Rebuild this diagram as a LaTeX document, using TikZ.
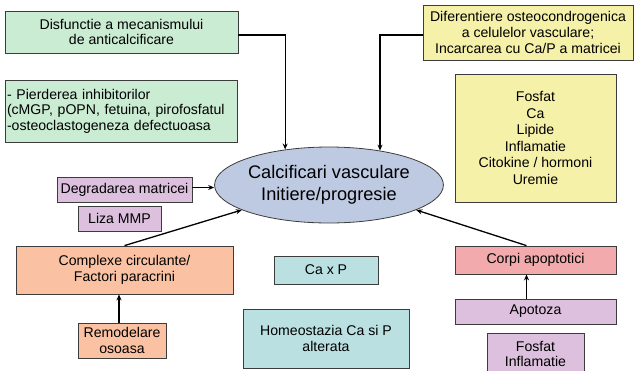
\documentclass[tikz,border=0pt]{standalone}
\usepackage{fontspec}
\setmainfont{Liberation Sans}
\usetikzlibrary{arrows.meta,shapes.geometric}
\definecolor{cgreen}{RGB}{202,236,210}
\definecolor{cyellow}{RGB}{246,241,168}
\definecolor{clav}{RGB}{220,192,222}
\definecolor{corange}{RGB}{250,194,162}
\definecolor{cteal}{RGB}{186,224,226}
\definecolor{cpink}{RGB}{242,170,172}
\definecolor{cell}{RGB}{190,201,226}
\definecolor{cborder}{RGB}{60,60,60}
\begin{document}
\begin{tikzpicture}[x=1pt,y=-1pt,
  box/.style={draw=cborder,line width=0.8pt,rectangle,inner sep=0pt,align=center,
    font=\fontsize{14.1}{15.6}\selectfont},
  arr/.style={-{Stealth[length=6pt,width=5pt]},line width=1.3pt,black}]
\useasboundingbox (0,0) rectangle (635,370);
\node[box,fill=cgreen,minimum width=233,minimum height=42] (dis) at (121.5,32)
  {Disfunctie a mecanismului\\de anticalcificare};
\node[box,fill=cgreen,minimum width=232,minimum height=62,align=left,text width=228] (pier) at (121,111)
  {- Pierderea inhibitorilor\\(cMGP, pOPN, fetuina, pirofosfatul\\-osteoclastogeneza defectuoasa};
\node[box,fill=cyellow,minimum width=210,minimum height=55] (dif) at (528,32.5)
  {Diferentiere osteocondrogenica\\a celulelor vasculare;\\Incarcarea cu Ca/P a matricei};
\node[box,fill=cyellow,minimum width=161,minimum height=128,font=\fontsize{14.1}{16.6}\selectfont] (fos) at (535.5,138)
  {Fosfat\\Ca\\Lipide\\Inflamatie\\Citokine / hormoni\\Uremie};
\node[draw=cborder,line width=0.8pt,ellipse,fill=cell,minimum width=224,minimum height=76,inner sep=0pt,
  align=center,font=\fontsize{18.2}{21.5}\selectfont] (ell) at (329,185)
  {Calcificari vasculare\\Initiere/progresie};
\node[box,fill=clav,minimum width=135,minimum height=25] (deg) at (124.5,189.5) {Degradarea matricei};
\node[box,fill=clav,minimum width=83,minimum height=25] (liza) at (119.5,218.5) {Liza MMP};
\node[box,fill=corange,minimum width=217,minimum height=48] (comp) at (124.5,270)
  {Complexe circulante/\\Factori paracrini};
\node[box,fill=corange,minimum width=88,minimum height=35] (remo) at (122,340.5)
  {Remodelare\\osoasa};
\node[box,fill=cteal,minimum width=104,minimum height=28] (caxp) at (326,270) {Ca x P};
\node[box,fill=cteal,minimum width=166,minimum height=59] (homeo) at (326,338.5)
  {Homeostazia Ca si P\\alterata};
\node[box,fill=cpink,minimum width=161,minimum height=28] (corpi) at (535.5,260) {Corpi apoptotici};
\node[box,fill=clav,minimum width=161,minimum height=25] (apot) at (535.5,311.5) {Apotoza};
\node[box,fill=clav,minimum width=97,minimum height=42] (fos2) at (535.5,354)
  {Fosfat\\Inflamatie};
% connectors
\draw[arr] ([yshift=-3pt]dis.east) -| (ell.141.5);
\draw[arr] ([yshift=-2.5pt]dif.west) -| (ell.34.8);
\draw[arr] ([yshift=2pt]deg.east) -- ([yshift=2pt]deg.east -| ell.west);
\draw[arr] (comp.north) -- (ell.196.5);
\draw[arr] ([xshift=-9pt]corpi.north) -- (ell.344);
\draw[arr] ([xshift=-3pt]remo.north) -- ([xshift=-3pt]remo.north |- comp.south);
\draw[arr] ([xshift=-9pt]apot.north) -- ([xshift=-9pt]corpi.south);
\end{tikzpicture}
\end{document}
